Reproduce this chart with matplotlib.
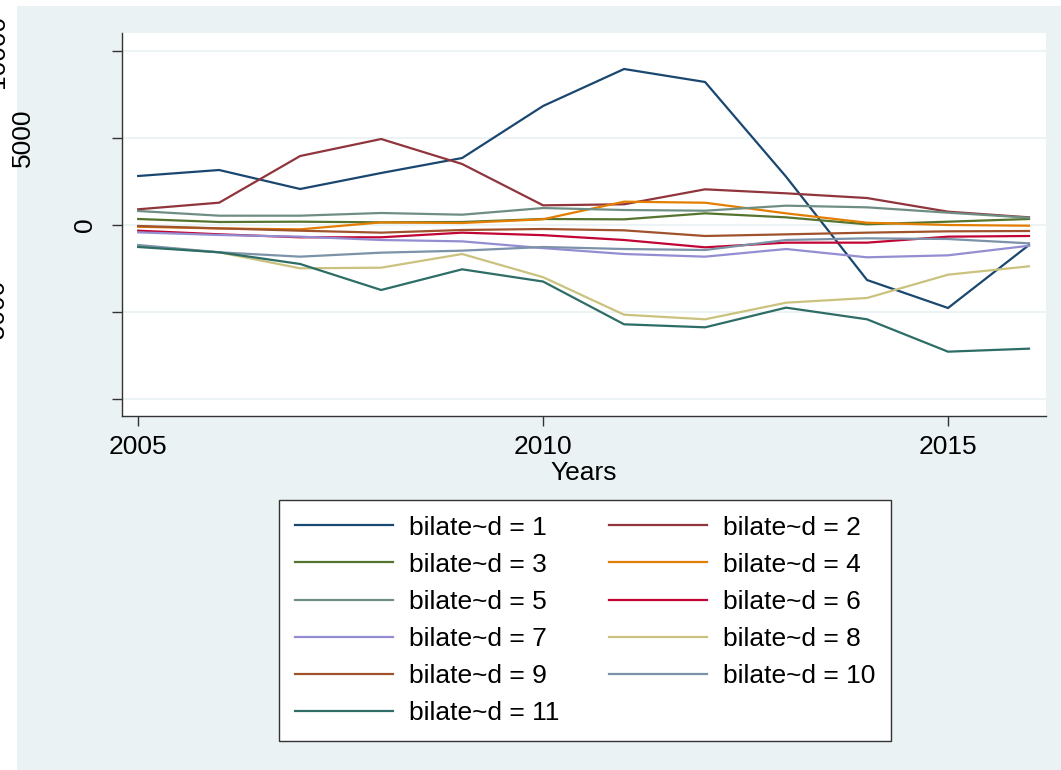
import matplotlib
matplotlib.use('Agg')
import matplotlib.pyplot as plt
import matplotlib.transforms as mtransforms
from matplotlib.patches import Rectangle

plt.rcParams['font.family'] = ['Liberation Sans', 'DejaVu Sans']

# data
years = [2005, 2006, 2007, 2008, 2009, 2010, 2011, 2012, 2013, 2014, 2015, 2016]

s1 = [2816, 3160, 2069, 2988, 3850, 6840, 8965, 8218, 2777, -3161, -4770, -1150]
s2 = [902, 1283, 3965, 4942, 3505, 1130, 1190, 2050, 1820, 1550, 765, 440]
s3 = [345, 172, 190, 153, 172, 345, 325, 670, 440, 40, 190, 345]
s4 = [-100, -200, -250, 150, 115, 330, 1340, 1280, 670, 130, 0, -40]
s5 = [805, 535, 535, 690, 592, 975, 862, 822, 1110, 1015, 707, 420]
s6 = [-328, -535, -707, -707, -440, -585, -862, -1283, -1015, -1015, -670, -632]
s7 = [-422, -575, -670, -862, -940, -1330, -1667, -1820, -1380, -1857, -1743, -1190]
s8 = [-1207, -1570, -2490, -2453, -1667, -3000, -5155, -5420, -4465, -4195, -2855, -2375]
s9 = [-57, -192, -328, -440, -287, -230, -307, -632, -537, -440, -364, -345]
s10 = [-1150, -1570, -1820, -1590, -1475, -1264, -1380, -1437, -862, -766, -805, -1054]
s11 = [-1264, -1570, -2241, -3735, -2547, -3250, -5707, -5880, -4750, -5420, -7280, -7107]

series = [s1, s2, s3, s4, s5, s6, s7, s8, s9, s10, s11]
labels = ['bilate~d = %d' % (i + 1) for i in range(11)]
colors = ['#1a476f', '#90353b', '#55752f', '#e37e00', '#6e8e84', '#c10534',
          '#938dd2', '#cac27e', '#a0522d', '#7b92a8', '#2d6d66']

xticks = [2005, 2010, 2015]
yticks = [-10000, -5000, 0, 5000, 10000]
# horizontal centre (px) of each rotated y label, mimics stata's odd placement
ylab_x = [-25, -3, 85, 23, -3]

W, H = 1061, 770
bg = '#eaf2f3'

fig = plt.figure(figsize=(W / 100, H / 100), dpi=100)
fig.patch.set_facecolor('white')
# stata-like graph region
fig.patches.append(Rectangle((17 / W, 0), 1 - 17 / W, 1 - 6 / H,
                             transform=fig.transFigure, facecolor=bg,
                             edgecolor='none', zorder=-10))

ax = fig.add_axes([122 / W, 1 - 416 / H, (1046 - 122) / W, (416 - 33) / H])
ax.set_facecolor('white')

for ys in yticks:
    ax.axhline(ys, color=bg, lw=1.3, zorder=0)

handles = []
for s, c, lab in zip(series, colors, labels):
    h, = ax.plot(years, s, color=c, lw=1.6, label=lab, solid_joinstyle='miter')
    handles.append(h)

ax.set_xlim(2004.80, 2016.21)
ax.set_ylim(-10977, 11034)

for sp in ['top', 'right']:
    ax.spines[sp].set_visible(False)
for sp in ['left', 'bottom']:
    ax.spines[sp].set_color('#333333')
    ax.spines[sp].set_linewidth(1.0)

ax.set_xticks(xticks)
ax.set_xticklabels([str(x) for x in xticks], fontsize=19)
ax.tick_params(axis='x', length=7, width=1, color='#333333', pad=7)
ax.set_yticks(yticks)
ax.set_yticklabels([])
ax.tick_params(axis='y', length=7, width=1, color='#333333')

# rotated y labels (the reference clips the long ones at the left edge)
trans = mtransforms.blended_transform_factory(fig.transFigure, ax.transData)
for v, xp in zip(yticks, ylab_x):
    ax.text(xp / W, v, str(v), rotation=90, ha='center', va='center',
            fontsize=19, transform=trans, clip_on=False)

ax.set_xlabel('Years', fontsize=19, labelpad=1)

# row-major order in 2 columns
order = [0, 2, 4, 6, 8, 10, 1, 3, 5, 7, 9]
leg = fig.legend([handles[i] for i in order], [labels[i] for i in order],
                 ncol=2, loc='center', bbox_to_anchor=(585 / W, 1 - 620.5 / H),
                 fontsize=19, frameon=True, fancybox=False, handlelength=3.7,
                 handletextpad=0.6, columnspacing=1.9, labelspacing=0.5,
                 borderpad=0.6, borderaxespad=0)
leg.get_frame().set_edgecolor('#333333')
leg.get_frame().set_linewidth(1.0)
leg.get_frame().set_facecolor('white')
leg.get_frame().set_alpha(1)

fig.savefig('out.png', dpi=100, facecolor=fig.get_facecolor())
